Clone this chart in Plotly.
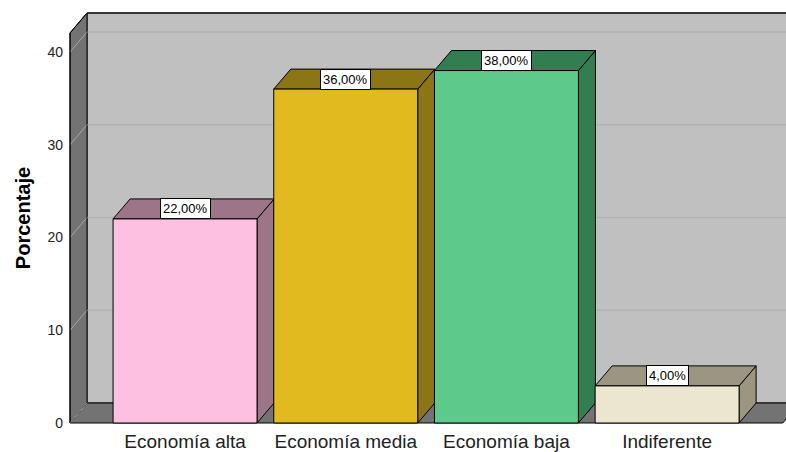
import plotly.graph_objects as go

categories = ["Economía alta", "Economía media", "Economía baja", "Indiferente"]
values = [22, 36, 38, 4]
value_labels = ["22,00%", "36,00%", "38,00%", "4,00%"]
y_ticks = [0, 10, 20, 30, 40]

front_colors = ["#fdc0e0", "#e0ba1f", "#5dca8b", "#ece5d0"]
side_colors = ["#9c7688", "#8b7515", "#327d51", "#9b9582"]

# geometry (style)
BAR_W = 0.896
DX = 0.106      # depth offset in category units
DY = 2.156      # depth offset in value units
X0 = -0.716     # front-left wall x
X1 = 3.72       # front-right floor x
YTOP = 42.05    # front top of left wall
XR = [-0.7285, 3.740]
YR = [-0.216, 44.42]

fig = go.Figure()

def poly(xs, ys, fill, line="black", lw=1):
    fig.add_trace(go.Scatter(x=xs + [xs[0]], y=ys + [ys[0]], mode="lines", fill="toself",
                             fillcolor=fill, line=dict(color=line, width=lw),
                             hoverinfo="skip", showlegend=False, cliponaxis=False))

# back wall
poly([X0 + DX, 4.5, 4.5, X0 + DX], [DY, DY, YTOP + DY, YTOP + DY], "#c0c0c0")
# floor
poly([X0, X1, X1 + DX, X0 + DX], [0, 0, DY, DY], "#737373")
# left wall
poly([X0, X0, X0 + DX, X0 + DX], [0, YTOP, YTOP + DY, DY], "#737373")

# gridlines on back wall and left wall
for t in y_ticks:
    if t > 0:
        fig.add_trace(go.Scatter(x=[X0 + DX, 4.5], y=[t + DY, t + DY], mode="lines",
                                 line=dict(color="#b2b2b2", width=1.5), hoverinfo="skip",
                                 showlegend=False))
    fig.add_trace(go.Scatter(x=[X0, X0 + DX], y=[t, t + DY], mode="lines",
                             line=dict(color="#a8a8a8", width=1), hoverinfo="skip",
                             showlegend=False))

# re-draw wall outlines on top of gridlines
fig.add_trace(go.Scatter(x=[X0, X0, X0 + DX, 4.5], y=[0, YTOP, YTOP + DY, YTOP + DY], mode="lines",
                         line=dict(color="black", width=1), hoverinfo="skip", showlegend=False,
                         cliponaxis=False))
fig.add_trace(go.Scatter(x=[X0 + DX, X0 + DX, 4.5], y=[YTOP + DY, DY, DY], mode="lines",
                         line=dict(color="#3a3a3a", width=1), hoverinfo="skip", showlegend=False))

# bars
for i, v in enumerate(values):
    l, r = i - BAR_W / 2, i + BAR_W / 2
    poly([r, r + DX, r + DX, r], [0, DY, v + DY, v], side_colors[i])
    poly([l, l + DX, r + DX, r], [v, v + DY, v + DY, v], side_colors[i])
    poly([l, r, r, l], [0, 0, v, v], front_colors[i])

for i, v in enumerate(values):
    fig.add_annotation(x=i, y=v + DY / 2, text=value_labels[i], showarrow=False,
                       bgcolor="white", bordercolor="black", borderwidth=1, borderpad=2,
                       font=dict(family="Liberation Sans, Arial", size=13, color="black"))

fig.update_layout(
    width=786, height=452,
    margin=dict(l=68, r=0, t=11, b=27),
    paper_bgcolor="white", plot_bgcolor="white",
    font=dict(family="Liberation Sans, Arial", color="#222"),
    xaxis=dict(range=XR, tickmode="array", tickvals=list(range(len(categories))),
               ticktext=categories, showgrid=False, zeroline=False, showline=False,
               ticks="", tickfont=dict(size=19, color="#222"), ticklabelstandoff=3,
               fixedrange=True),
    yaxis=dict(range=YR, tickmode="array", tickvals=y_ticks, showgrid=False, zeroline=False,
               showline=False, ticks="", tickfont=dict(size=14, color="#222"),
               ticklabelstandoff=4,
               title=dict(text="<b>Porcentaje</b>", font=dict(size=20, color="black"), standoff=11)),
)

fig.write_html("out.html")
